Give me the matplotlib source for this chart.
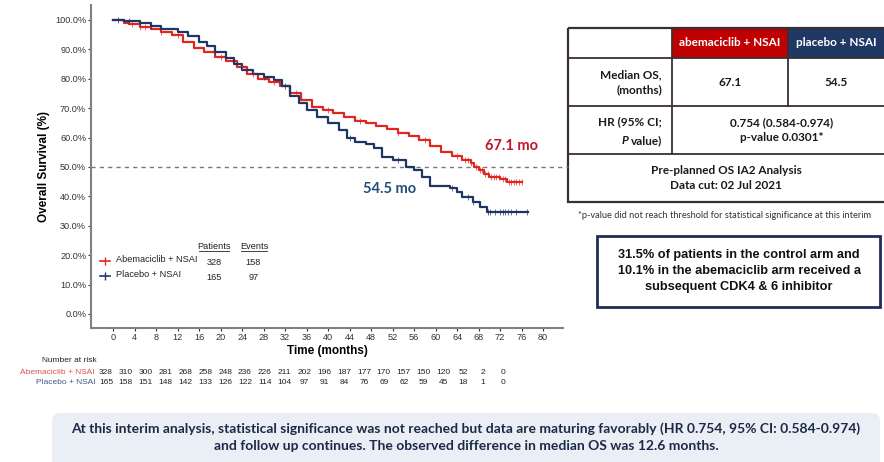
import numpy as np
import matplotlib.pyplot as plt
from matplotlib.patches import Rectangle, FancyBboxPatch
from matplotlib.lines import Line2D

plt.rcParams['font.family'] = ['Liberation Sans', 'DejaVu Sans']

# Kaplan-Meier curves (months, % surviving)
abe_t = [0, 2, 3, 5, 7, 9, 11, 13, 15, 17, 19, 21, 23, 25, 27, 29, 31, 33, 35,
         37, 39, 41, 43, 45, 47, 49, 51, 53, 55, 57, 59, 61, 63, 65, 66.5, 67.1,
         68, 69, 70, 72, 73.3, 76.1]
abe_s = [100, 99, 98.5, 97.5, 97, 96, 95, 92.5, 90.5, 89, 87.5, 86, 84,
         81.5, 80, 78.8, 77.5, 75, 72.8, 70.5, 69.5, 68.2, 67, 65.8, 64.8, 63.8,
         62.8, 61.5, 60.5, 59, 57, 55, 53.8, 52.5, 51.5, 50, 49, 47.5, 46.6, 46,
         45, 45]
pla_t = [0, 2, 5, 7, 9, 12, 14, 16, 17.5, 19, 21, 22.5, 24, 26, 28, 30, 31.5,
         33, 34.5, 36, 38, 40, 42, 43.5, 45, 47, 48.5, 50, 52, 54.5, 56, 57.5,
         59, 62.7, 64, 65, 67, 68.3, 69.5, 77.2]
pla_s = [100, 99.5, 99, 98, 97, 96, 94.5, 92.5, 91, 89, 87, 85, 83, 81.5,
         80.5, 79.5, 77.5, 74, 71.8, 69.5, 67, 64.8, 62.6, 60, 58.5, 57.8, 56.5,
         53.5, 52.3, 50, 49, 46.5, 43.5, 42.9, 41.5, 39.8, 38, 36.4, 34.7, 34.7]

abe_cens = [3.5, 5, 6, 9, 12, 20, 24, 26, 30, 34, 40, 46, 53, 58, 64, 65.5, 66,
            66.5, 67.5, 68.2, 68.6, 69.2, 69.8, 70.3, 70.8, 71.3, 71.8, 72.5, 73,
            73.6, 74, 74.5, 75, 75.5, 76]
pla_cens = [1, 3, 5, 7, 19, 28, 32, 44, 53, 63, 66, 67, 69.8, 70.2, 71, 72, 72.5,
            73, 73.5, 74, 75, 77]

x_ticks = list(range(0, 84, 4))
abe_risk = [328, 310, 300, 281, 268, 258, 248, 236, 226, 211, 202, 196, 187,
            177, 170, 157, 150, 120, 52, 2, 0]
pla_risk = [165, 158, 151, 148, 142, 133, 126, 122, 114, 104, 97, 91, 84, 76,
            69, 62, 59, 45, 18, 1, 0]

RED = '#e0261e'
NAVY = '#1f3566'
W, H = 884, 462

fig = plt.figure(figsize=(W / 100, H / 100), dpi=100)
ax = fig.add_axes([91 / W, 1 - 328 / H, 472 / W, 323 / H])


def step_at(t, s, x):
    i = np.searchsorted(t, x, side='right') - 1
    return np.asarray(s)[i]


ax.step(abe_t, abe_s, where='post', color=RED, lw=1.6, zorder=3)
ax.step(pla_t, pla_s, where='post', color=NAVY, lw=1.6, zorder=3)
ax.plot(abe_cens, step_at(abe_t, abe_s, abe_cens), ls='none', marker='|',
        ms=4.5, mew=0.6, color=RED, alpha=0.8, zorder=3)
ax.plot(pla_cens, step_at(pla_t, pla_s, pla_cens), ls='none', marker='|',
        ms=4.5, mew=0.6, color=NAVY, alpha=0.8, zorder=3)

ax.axhline(50, xmin=0, xmax=1.01, color='#777777', lw=1, ls=(0, (3, 3)),
           clip_on=False, zorder=1)

ax.set_xlim(-4.1, 83.7)
ax.set_ylim(-4.8, 105.1)
ax.set_xticks(x_ticks)
ax.set_yticks(range(0, 101, 10))
ax.set_yticklabels([f'{v:.1f}%' for v in range(0, 101, 10)])
ax.tick_params(labelsize=6.6, colors='#333333', length=2, width=0.8, pad=1.5)
for sp in ['top', 'right']:
    ax.spines[sp].set_visible(False)
for sp in ['left', 'bottom']:
    ax.spines[sp].set_color('#808080')
    ax.spines[sp].set_linewidth(1.5)
ax.set_xlabel('Time (months)', fontsize=8.5, fontweight='bold', labelpad=2)
ax.set_ylabel('Overall Survival (%)', fontsize=8.5, fontweight='bold')
ax.yaxis.set_label_coords(-41 / 472, 0.5)

ax.text(74.2, 57, '67.1 mo', color='#c0182b', fontsize=10.5, fontweight='bold',
        ha='center', va='center', family=['Lato', 'DejaVu Sans'])
ax.text(51.5, 42.5, '54.5 mo', color='#1f4e79', fontsize=10.5, fontweight='bold',
        ha='center', va='center', family=['Lato', 'DejaVu Sans'])

# legend inside axes
lg = 6.6
for y, c, lab, n, ev in [(18, RED, 'Abemaciclib + NSAI', 328, 158),
                         (13, NAVY, 'Placebo + NSAI', 165, 97)]:
    ax.add_line(Line2D([-2.4, -0.6], [y, y], color=c, lw=1.2))
    ax.plot([-1.5], [y], marker='|', ms=6, color=c)
    ax.text(0.6, y + 0.5, lab, fontsize=lg, va='center', color='#222222')
    ax.text(18.8, y - 0.5, str(n), fontsize=lg, va='center', ha='center', color='#222222')
    ax.text(26.1, y - 0.5, str(ev), fontsize=lg, va='center', ha='center', color='#222222')
ax.text(18.8, 23, 'Patients', fontsize=lg, ha='center', va='center', color='#222222')
ax.text(26.2, 23, 'Events', fontsize=lg, ha='center', va='center', color='#222222')
ax.add_line(Line2D([16.0, 21.6], [21.5, 21.5], color='#222222', lw=0.6))
ax.add_line(Line2D([23.8, 28.6], [21.5, 21.5], color='#222222', lw=0.6))

# overlay in pixel coordinates for table, boxes and risk table
ov = fig.add_axes([0, 0, 1, 1], zorder=-1)
ov.set_xlim(0, W)
ov.set_ylim(H, 0)
ov.axis('off')

rk = 6.0
fig.text(42 / W, 1 - 360 / H, 'Number at risk', fontsize=rk, va='center', color='#222222')
fig.text(95 / W, 1 - 373 / H, 'Abemaciclib + NSAI', fontsize=rk, va='center',
         ha='right', color='#d9534f')
fig.text(95 / W, 1 - 383 / H, 'Placebo + NSAI', fontsize=rk, va='center',
         ha='right', color='#3d5a8a')
for i, (a, p) in enumerate(zip(abe_risk, pla_risk)):
    xp = 106 + i * 19.85
    fig.text(xp / W, 1 - 373 / H, str(a), fontsize=rk, va='center', ha='center', color='#222222')
    fig.text(xp / W, 1 - 383 / H, str(p), fontsize=rk, va='center', ha='center', color='#222222')

# results table
tf = ['Lato', 'DejaVu Sans']
tc = '#1a1a1a'
ov.add_patch(Rectangle((672, 28), 116, 30, facecolor='#c00000', edgecolor='none'))
ov.add_patch(Rectangle((788, 28), 100, 30, facecolor='#1f3864', edgecolor='none'))
ov.add_patch(Rectangle((568, 28), 330, 174, facecolor='none', edgecolor='#3b2f2f', lw=1.6))
for y in [58, 106, 154]:
    ov.add_line(Line2D([568, 884], [y, y], color='#3b2f2f', lw=1.3))
ov.add_line(Line2D([672, 672], [28, 154], color='#3b2f2f', lw=1.3))
ov.add_line(Line2D([788, 788], [28, 106], color='#3b2f2f', lw=1.3))
ov.text(730, 43, 'abemaciclib + NSAI', color='white', fontsize=8.5, fontweight='bold',
        ha='center', va='center', family=tf)
ov.text(836, 43, 'placebo + NSAI', color='white', fontsize=8.5, fontweight='bold',
        ha='center', va='center', family=tf)
ov.text(662, 82, 'Median OS,\n(months)', color=tc, fontsize=8.5, fontweight='bold',
        ha='right', va='center', family=tf, linespacing=1.4)
ov.text(730, 82, '67.1', color=tc, fontsize=8.5, fontweight='bold', ha='center',
        va='center', family=tf)
ov.text(836, 82, '54.5', color=tc, fontsize=8.5, fontweight='bold', ha='center',
        va='center', family=tf)
ov.text(662, 122, 'HR (95% CI;', color=tc, fontsize=8.5, fontweight='bold',
        ha='right', va='center', family=tf)
ov.text(662, 141, 'value)', color=tc, fontsize=8.5, fontweight='bold',
        ha='right', va='center', family=tf)
ov.text(628, 141, 'P', color=tc, fontsize=8.5, fontweight='bold', style='italic',
        ha='right', va='center', family=tf)
ov.text(782, 130, '0.754 (0.584-0.974)\np-value 0.0301*', color=tc, fontsize=8.5,
        fontweight='bold', ha='center', va='center', family=tf, linespacing=1.4)
ov.text(726, 178, 'Pre-planned OS IA2 Analysis\nData cut: 02 Jul 2021', color=tc,
        fontsize=8.5, fontweight='bold', ha='center', va='center', family=tf,
        linespacing=1.4)
ov.text(578, 216, '*p-value did not reach threshold for statistical significance at this interim',
        color='#333333', fontsize=6.7, ha='left', va='center', family=tf)

# CDK4/6 box
ov.add_patch(Rectangle((597, 236), 283, 71, facecolor='white', edgecolor='#1f2d5a', lw=2))
ov.text(739, 271, '31.5% of patients in the control arm and\n10.1% in the abemaciclib arm received a\n'
        'subsequent CDK4 & 6 inhibitor', color='#111111', fontsize=9.2, fontweight='bold',
        ha='center', va='center', linespacing=1.45)

# bottom banner
ov.add_patch(FancyBboxPatch((52, 413), 828, 55, boxstyle='round,pad=0,rounding_size=8',
                            facecolor='#eaeef5', edgecolor='none'))
ov.text(466, 437, 'At this interim analysis, statistical significance was not reached but data '
        'are maturing favorably (HR 0.754, 95% CI: 0.584-0.974)\nand follow up continues. '
        'The observed difference in median OS was 12.6 months.', color='#1c2a48',
        fontsize=10, fontweight='bold', ha='center', va='center', family=tf, linespacing=1.45)

fig.savefig('out.png', dpi=100)
